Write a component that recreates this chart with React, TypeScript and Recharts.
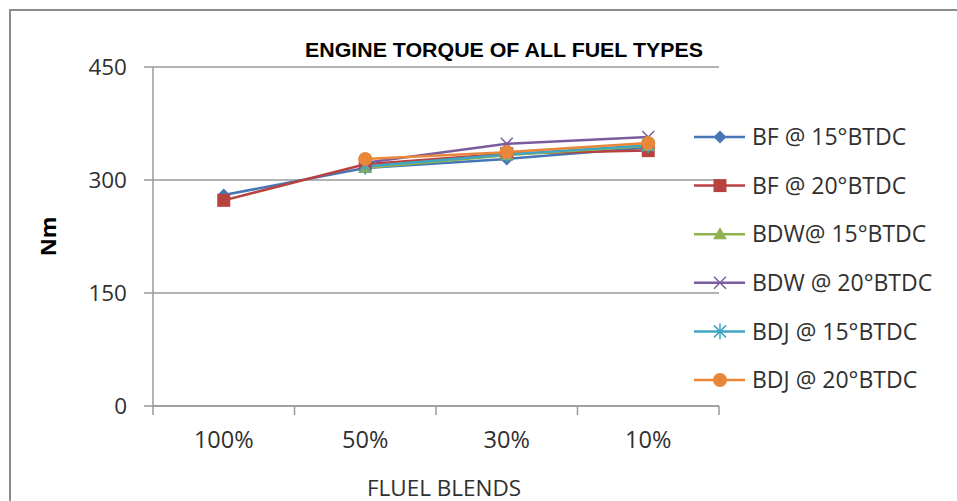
import React from 'react';
import { LineChart, Line, XAxis, YAxis, CartesianGrid, Legend } from 'recharts';

const categories = ['100%', '50%', '30%', '10%'];
const bf15 = [280, 316, 328, 343];
const bf20 = [273, 321, 335, 339];
const bdw15 = [null, 316, 333, 345];
const bdw20 = [null, 323, 348, 357];
const bdj15 = [null, 318, 334, 346];
const bdj20 = [null, 328, 337, 349];
const yTicks = [0, 150, 300, 450];

const series = [
  { key: 'bf15', name: 'BF @ 15°BTDC', color: '#4676B5', marker: 'diamond', values: bf15 },
  { key: 'bf20', name: 'BF @ 20°BTDC', color: '#B8423F', marker: 'square', values: bf20 },
  { key: 'bdw15', name: 'BDW@ 15°BTDC', color: '#8FB24F', marker: 'triangle', values: bdw15 },
  { key: 'bdw20', name: 'BDW @ 20°BTDC', color: '#7A5C9E', marker: 'x', values: bdw20 },
  { key: 'bdj15', name: 'BDJ @ 15°BTDC', color: '#3FA5C2', marker: 'star', values: bdj15 },
  { key: 'bdj20', name: 'BDJ @ 20°BTDC', color: '#E8873A', marker: 'circle', values: bdj20 },
];

const data = categories.map((c, i) => {
  const row: any = { cat: c };
  series.forEach((s) => { row[s.key] = s.values[i]; });
  return row;
});

const FONT = '"Open Sans", "Noto Sans", sans-serif';
const AXIS = '#9a9a9a';
const PLOT_L = 153;
const PLOT_R = 719;
const HALF_BAND = (PLOT_R - PLOT_L) / categories.length / 2;

function Marker({ type, cx, cy, color }: { type: string; cx: number; cy: number; color: string }) {
  switch (type) {
    case 'diamond':
      return <polygon points={`${cx},${cy - 6.5} ${cx + 6.5},${cy} ${cx},${cy + 6.5} ${cx - 6.5},${cy}`} fill={color} />;
    case 'square':
      return <rect x={cx - 6.5} y={cy - 6.5} width={13} height={13} fill={color} />;
    case 'triangle':
      return <polygon points={`${cx},${cy - 7} ${cx + 7},${cy + 5} ${cx - 7},${cy + 5}`} fill={color} />;
    case 'x':
      return (
        <g stroke={color} strokeWidth={1.5}>
          <line x1={cx - 6} y1={cy - 6} x2={cx + 6} y2={cy + 6} />
          <line x1={cx - 6} y1={cy + 6} x2={cx + 6} y2={cy - 6} />
        </g>
      );
    case 'star':
      return (
        <g stroke={color} strokeWidth={1.5}>
          <line x1={cx - 6} y1={cy - 6} x2={cx + 6} y2={cy + 6} />
          <line x1={cx - 6} y1={cy + 6} x2={cx + 6} y2={cy - 6} />
          <line x1={cx} y1={cy - 8} x2={cx} y2={cy + 8} />
        </g>
      );
    case 'circle':
    default:
      return <circle cx={cx} cy={cy} r={7} fill={color} />;
  }
}

const makeDot = (s: any) => (props: any) => {
  const { cx, cy, index, value } = props;
  if (cx == null || cy == null || value == null || (Array.isArray(value) && value[1] == null)) {
    return <g key={`${s.key}-${index}`} />;
  }
  return (
    <g key={`${s.key}-${index}`}>
      <Marker type={s.marker} cx={cx} cy={cy} color={s.color} />
    </g>
  );
};

const XTick = (props: any) => {
  const { x, payload, index } = props;
  const axisY = 406;
  return (
    <g>
      <line x1={x - HALF_BAND} y1={axisY} x2={x - HALF_BAND} y2={axisY + 9} stroke={AXIS} strokeWidth={1.5} />
      {index === categories.length - 1 && (
        <line x1={x + HALF_BAND} y1={axisY} x2={x + HALF_BAND} y2={axisY + 9} stroke={AXIS} strokeWidth={1.5} />
      )}
      <text x={x} y={axisY + 42} textAnchor="middle" fontFamily={FONT} fontSize={23.5} fill="#303030">
        {payload.value}
      </text>
    </g>
  );
};

const YLabel = (props: any) => {
  const vb = props.viewBox || {};
  const cy = (vb.y ?? 67) + (vb.height ?? 339) / 2;
  const cx = 48;
  return (
    <text
      x={cx}
      y={cy}
      transform={`rotate(-90 ${cx} ${cy})`}
      textAnchor="middle"
      dy="0.36em"
      fontFamily={FONT}
      fontSize={22}
      fontWeight="bold"
      fill="#000"
    >
      Nm
    </text>
  );
};

const XLabel = (props: any) => {
  const vb = props.viewBox || {};
  const cx = (vb.x ?? PLOT_L) + (vb.width ?? PLOT_R - PLOT_L) / 2;
  return (
    <text x={cx + 8} y={496} textAnchor="middle" fontFamily={FONT} fontSize={22.5} fill="#303030">
      FLUEL BLENDS
    </text>
  );
};

const LegendContent = () => (
  <svg width={265} height={290}>
    {series.map((s, i) => {
      const y = 24 + i * 48.6;
      return (
        <g key={s.key}>
          <line x1={4} y1={y} x2={55} y2={y} stroke={s.color} strokeWidth={2.5} />
          <Marker type={s.marker} cx={30} cy={y} color={s.color} />
          <text x={62} y={y} dy="0.36em" fontFamily={FONT} fontSize={23} fill="#303030">
            {s.name}
          </text>
        </g>
      );
    })}
  </svg>
);

export default function App() {
  return (
    <div style={{ position: 'absolute', left: 0, top: 0, width: 957, height: 501, background: '#fff', overflow: 'hidden' }}>
      <div
        style={{
          position: 'absolute', left: 9, top: 9, width: 1000, height: 600,
          borderLeft: '2px solid #8c8c8c', borderTop: '2px solid #8c8c8c',
        }}
      />
      <LineChart
        width={957}
        height={501}
        data={data}
        margin={{ top: 67, right: 957 - PLOT_R, bottom: 0, left: 0 }}
        style={{ position: 'absolute', left: 0, top: 0 }}
      >
        <CartesianGrid horizontal vertical={false} stroke={AXIS} strokeWidth={1.5} />
        <XAxis
          dataKey="cat"
          height={95}
          axisLine={{ stroke: AXIS, strokeWidth: 1.5 }}
          tickLine={false}
          tickSize={0}
          tick={<XTick />}
          padding={{ left: HALF_BAND, right: HALF_BAND }}
          interval={0}
          label={<XLabel />}
        />
        <YAxis
          width={PLOT_L}
          domain={[0, 450]}
          ticks={yTicks}
          interval={0}
          axisLine={{ stroke: AXIS, strokeWidth: 1.5 }}
          tickLine={{ stroke: AXIS, strokeWidth: 1.5 }}
          tickSize={9}
          tickMargin={17}
          tick={{ fontFamily: FONT, fontSize: 22.5, fill: '#303030' }}
          label={<YLabel />}
        />
        <Legend
          layout="vertical"
          align="center"
          verticalAlign="middle"
          content={<LegendContent />}
          wrapperStyle={{ position: 'absolute', left: 690, top: 113, width: 265, height: 290 }}
        />
        {series.map((s) => (
          <Line
            key={s.key}
            dataKey={s.key}
            name={s.name}
            stroke={s.color}
            strokeWidth={2.5}
            dot={makeDot(s)}
            activeDot={false}
            isAnimationActive={false}
            connectNulls={false}
            type="linear"
          />
        ))}
      </LineChart>
      <svg width={957} height={80} style={{ position: 'absolute', left: 0, top: 0, pointerEvents: 'none' }}>
        <text
          x={305}
          y={57}
          textLength={398}
          lengthAdjust="spacingAndGlyphs"
          fontFamily='"Liberation Sans Narrow", "Liberation Sans", sans-serif'
          fontWeight="bold"
          fontSize={19.5}
          fill="#000"
        >
          ENGINE TORQUE OF ALL FUEL TYPES
        </text>
      </svg>
    </div>
  );
}
